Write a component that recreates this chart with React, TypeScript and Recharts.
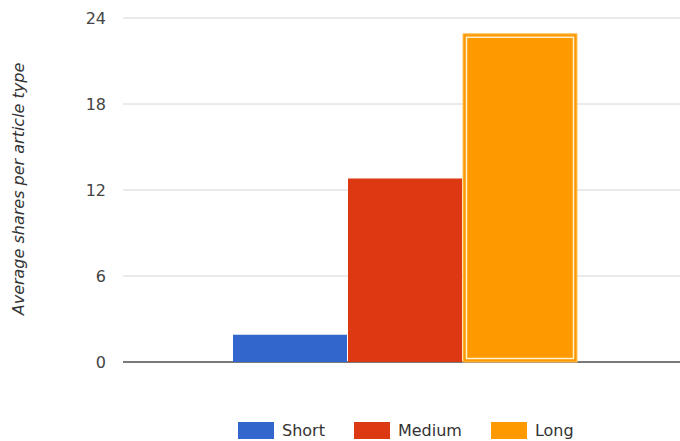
import { BarChart, Bar, XAxis, YAxis, CartesianGrid, Label } from 'recharts';

const categories = ['Article type'];
const shortValues = [1.9];
const mediumValues = [12.8];
const longValues = [22.9];
const yTicks = [0, 6, 12, 18, 24];

const series = [
    { key: 'short', name: 'Short', color: '#3366CC' },
    { key: 'medium', name: 'Medium', color: '#DC3912' },
    { key: 'long', name: 'Long', color: '#FF9900' },
];

const data = categories.map((c, i) => ({
    category: c,
    short: shortValues[i],
    medium: mediumValues[i],
    long: longValues[i],
}));

const font = '"DejaVu Sans", Tahoma, sans-serif';

// highlighted bar: light outer edge plus an inner white frame
const HighlightBar = (props: any) => {
    const { x, y, width, height, fill } = props;
    if (!height || height <= 0) return null;
    return (
        <g>
            <rect x={x} y={y} width={width} height={height} fill={fill} stroke="#ffc25c" strokeWidth={1} />
            <rect
                x={x + 3.5}
                y={y + 3.5}
                width={width - 7}
                height={height - 7}
                fill="none"
                stroke="#fff1cf"
                strokeWidth={1.5}
            />
        </g>
    );
};

export default function App() {
    return (
        <div style={{ position: 'absolute', left: 0, top: 0, width: 680, height: 441, background: '#fff' }}>
            <BarChart
                width={680}
                height={441}
                data={data}
                margin={{ top: 18, right: -8, bottom: 79, left: 0 }}
                barCategoryGap={110}
                barGap={1}
            >
                <CartesianGrid vertical={false} stroke="#d6d6d6" />
                <XAxis dataKey="category" hide />
                <YAxis
                    width={123}
                    domain={[0, 24]}
                    ticks={yTicks}
                    axisLine={false}
                    tickLine={false}
                    tickSize={0}
                    tickMargin={17}
                    tick={{ fill: '#444', fontSize: 16, fontFamily: font }}
                >
                    <Label
                        content={() => (
                            <text
                                x={24}
                                y={189}
                                transform="rotate(-90 24 189)"
                                textAnchor="middle"
                                fontSize={16}
                                fontStyle="italic"
                                fontFamily={font}
                                fill="#333"
                            >
                                Average shares per article type
                            </text>
                        )}
                    />
                </YAxis>
                <Bar dataKey="short" name="Short" fill="#3366CC" isAnimationActive={false} />
                <Bar dataKey="medium" name="Medium" fill="#DC3912" isAnimationActive={false} />
                <Bar dataKey="long" name="Long" fill="#FF9900" isAnimationActive={false} shape={<HighlightBar />} />
                <line x1={123} x2={680} y1={362} y2={362} stroke="#555" strokeWidth={1.5} />
            </BarChart>
            <div
                style={{
                    position: 'absolute',
                    left: 238,
                    top: 422,
                    display: 'flex',
                    alignItems: 'center',
                    fontFamily: font,
                    fontSize: 16,
                    lineHeight: '17px',
                    color: '#333',
                }}
            >
                {series.map((s) => (
                    <div key={s.key} style={{ display: 'flex', alignItems: 'center', marginRight: 29 }}>
                        <div style={{ width: 36, height: 17, background: s.color, marginRight: 8 }} />
                        <span>{s.name}</span>
                    </div>
                ))}
            </div>
        </div>
    );
}
